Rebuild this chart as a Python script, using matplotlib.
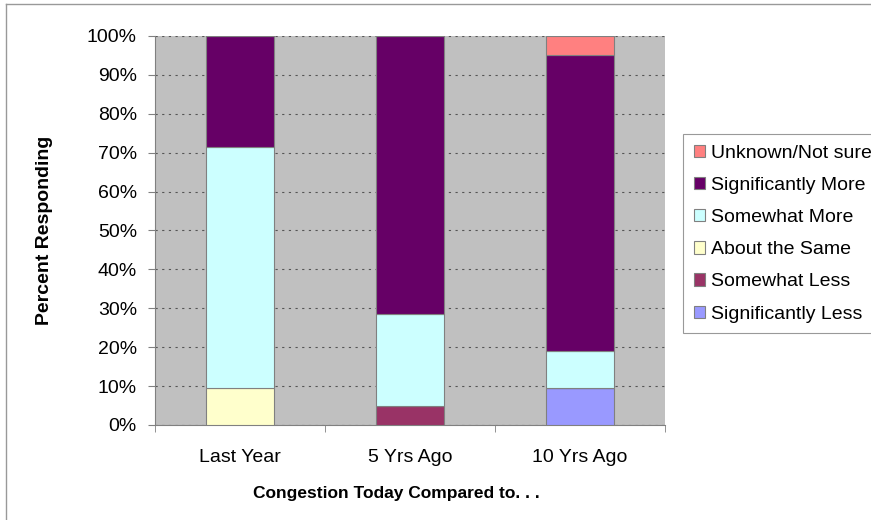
import numpy as np
import matplotlib
matplotlib.use("Agg")
import matplotlib.pyplot as plt
from matplotlib.lines import Line2D
from matplotlib.ticker import FixedLocator, PercentFormatter

# ----- data (percent of respondents) -----
periods = ["Last Year", "5 Yrs Ago", "10 Yrs Ago"]
sig_less = [0.0, 0.0, 9.5]
some_less = [0.0, 4.8, 0.0]
same = [9.5, 0.0, 0.0]
some_more = [61.9, 23.8, 9.5]
sig_more = [28.6, 71.4, 76.2]
unknown = [0.0, 0.0, 4.8]

series = [
    ("Significantly Less", sig_less, "#9999FF"),
    ("Somewhat Less", some_less, "#993366"),
    ("About the Same", same, "#FFFFCC"),
    ("Somewhat More", some_more, "#CCFFFF"),
    ("Significantly More", sig_more, "#660066"),
    ("Unknown/Not sure", unknown, "#FF8080"),
]

plt.rcParams["font.family"] = ["Liberation Sans", "DejaVu Sans"]

fig = plt.figure(figsize=(8.71, 5.2), dpi=100)
ax = fig.add_axes([0.178, 0.1827, 0.5855, 0.7481])
ax.set_facecolor("#C0C0C0")

x = np.arange(len(periods))
bottom = np.zeros(len(periods))
for name, vals, col in series:
    vals = np.array(vals)
    ax.bar(x, vals, 0.4, bottom=bottom, color=col, edgecolor="#808080",
           linewidth=0.8, label=name, zorder=3)
    bottom += vals

ax.set_xlim(-0.5, len(periods) - 0.5)
ax.set_ylim(0, 100)
ax.set_yticks(np.arange(0, 101, 10))
ax.yaxis.set_major_formatter(PercentFormatter(decimals=0))
ax.grid(axis="y", color="#555555", linestyle=(0, (2, 4)), linewidth=0.8, zorder=1)

ax.set_xticks(x)
ax.set_xticklabels(periods)
ax.xaxis.set_minor_locator(FixedLocator(np.arange(-0.5, len(periods), 1.0)))
ax.tick_params(axis="x", which="major", length=0, pad=17, labelsize=14)
ax.tick_params(axis="x", which="minor", length=5, color="#808080", direction="out")
ax.tick_params(axis="y", length=5, color="#808080", labelsize=14, pad=8)

for s in ["top", "right"]:
    ax.spines[s].set_visible(False)
for s in ["left", "bottom"]:
    ax.spines[s].set_color("#808080")

ax.set_ylabel("Percent Responding", fontsize=14, fontweight="bold")
ax.yaxis.set_label_coords((44 - 155) / 510, 0.5)
ax.yaxis.label.set_va("center")
ax.set_xlabel("Congestion Today Compared to. . .", fontsize=12.5, fontweight="bold")
ax.xaxis.set_label_coords((396 - 155) / 510, (425 - 494) / 389)
ax.xaxis.label.set_va("center")

h, l = ax.get_legend_handles_labels()
leg = fig.legend(h[::-1], l[::-1], loc="upper left",
                 bbox_to_anchor=(683 / 871, 1 - 134 / 520),
                 fontsize=14, frameon=True, fancybox=False, edgecolor="#808080",
                 handlelength=0.6, handleheight=0.6, handletextpad=0.3,
                 labelspacing=0.78, borderpad=0.55, borderaxespad=0)
leg.get_frame().set_linewidth(0.8)

# thin outer frame of the chart area
fig.add_artist(Line2D([6 / 871, 6 / 871], [0, 1 - 4 / 520], transform=fig.transFigure,
                      color="#999999", linewidth=1))
fig.add_artist(Line2D([6 / 871, 1], [1 - 4 / 520, 1 - 4 / 520], transform=fig.transFigure,
                      color="#999999", linewidth=1))

fig.savefig("out.png", dpi=100)
